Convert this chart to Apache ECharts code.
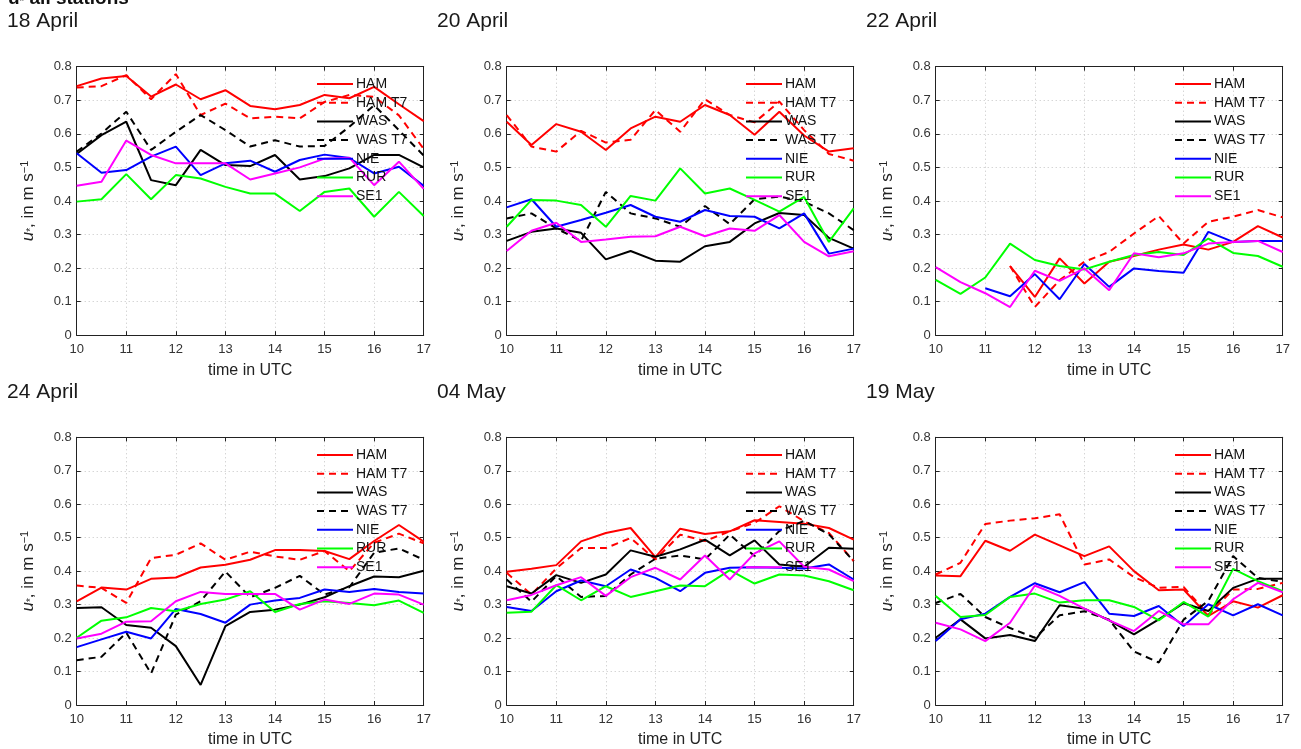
<!DOCTYPE html>
<html lang="en">
<head>
<meta charset="UTF-8">
<title>u* all stations</title>
<script src="https://cdn.jsdelivr.net/npm/echarts@6/dist/echarts.min.js"></script>
<style>
  body { margin: 0; background: #fff; }
  #chart { width: 1301px; height: 749px; }
</style>
</head>
<body>
<div id="chart"></div>
<script>
// time axis (UTC hours)
const TIMES = [10, 10.5, 11, 11.5, 12, 12.5, 13, 13.5, 14, 14.5, 15, 15.5, 16, 16.5, 17];
const STATIONS = ['HAM', 'HAM T7', 'WAS', 'WAS T7', 'NIE', 'RUR', 'SE1'];
const DAYS = ['18 April', '20 April', '22 April', '24 April', '04 May', '19 May'];

// 18 April
const apr18_HAM   = [0.742, 0.765, 0.772, 0.711, 0.747, 0.703, 0.730, 0.683, 0.673, 0.686, 0.716, 0.706, 0.740, 0.688, 0.638];
const apr18_HAMT7 = [0.738, 0.742, 0.775, 0.703, 0.778, 0.656, 0.690, 0.646, 0.651, 0.646, 0.695, 0.716, 0.710, 0.655, 0.555];
const apr18_WAS   = [0.540, 0.596, 0.636, 0.462, 0.447, 0.552, 0.507, 0.504, 0.537, 0.464, 0.474, 0.497, 0.537, 0.537, 0.500];
const apr18_WAST7 = [0.547, 0.601, 0.666, 0.552, 0.606, 0.656, 0.611, 0.562, 0.581, 0.562, 0.564, 0.621, 0.685, 0.611, 0.535];
const apr18_NIE   = [0.542, 0.484, 0.492, 0.532, 0.562, 0.477, 0.512, 0.520, 0.487, 0.522, 0.538, 0.528, 0.482, 0.502, 0.445];
const apr18_RUR   = [0.398, 0.405, 0.480, 0.405, 0.477, 0.467, 0.442, 0.422, 0.422, 0.370, 0.427, 0.437, 0.353, 0.427, 0.355];
const apr18_SE1   = [0.445, 0.457, 0.580, 0.537, 0.512, 0.512, 0.512, 0.464, 0.482, 0.500, 0.526, 0.529, 0.447, 0.517, 0.436];

// 20 April
const apr20_HAM   = [0.636, 0.567, 0.629, 0.606, 0.552, 0.616, 0.651, 0.636, 0.686, 0.656, 0.597, 0.666, 0.595, 0.547, 0.557];
const apr20_HAMT7 = [0.656, 0.562, 0.547, 0.609, 0.574, 0.582, 0.671, 0.606, 0.703, 0.656, 0.634, 0.696, 0.611, 0.540, 0.520];
const apr20_WAS   = [0.281, 0.308, 0.318, 0.305, 0.226, 0.251, 0.222, 0.219, 0.265, 0.278, 0.333, 0.364, 0.358, 0.290, 0.258];
const apr20_WAST7 = [0.348, 0.363, 0.318, 0.281, 0.427, 0.363, 0.348, 0.323, 0.385, 0.331, 0.405, 0.413, 0.398, 0.363, 0.313];
const apr20_NIE   = [0.381, 0.405, 0.323, 0.343, 0.365, 0.388, 0.353, 0.338, 0.373, 0.355, 0.353, 0.318, 0.363, 0.243, 0.258];
const apr20_RUR   = [0.323, 0.403, 0.401, 0.388, 0.323, 0.415, 0.401, 0.497, 0.422, 0.437, 0.403, 0.368, 0.412, 0.278, 0.378];
const apr20_SE1   = [0.251, 0.311, 0.335, 0.278, 0.285, 0.293, 0.295, 0.323, 0.295, 0.318, 0.311, 0.358, 0.278, 0.235, 0.250];

// 22 April (WAS stations without data)
const apr22_HAM   = [null, null, null, 0.206, 0.114, 0.229, 0.154, 0.219, 0.236, 0.255, 0.270, 0.255, 0.278, 0.325, 0.291];
const apr22_HAMT7 = [null, null, null, 0.206, 0.084, 0.164, 0.219, 0.248, 0.303, 0.355, 0.273, 0.338, 0.353, 0.373, 0.351];
const apr22_WAS   = [null, null, null, null, null, null, null, null, null, null, null, null, null, null, null];
const apr22_WAST7 = [null, null, null, null, null, null, null, null, null, null, null, null, null, null, null];
const apr22_NIE   = [null, null, 0.140, 0.116, 0.182, 0.107, 0.212, 0.144, 0.199, 0.191, 0.186, 0.308, 0.278, 0.281, 0.281];
const apr22_RUR   = [0.165, 0.123, 0.172, 0.273, 0.224, 0.206, 0.196, 0.219, 0.239, 0.248, 0.239, 0.288, 0.245, 0.236, 0.204];
const apr22_SE1   = [0.203, 0.158, 0.125, 0.084, 0.192, 0.162, 0.199, 0.134, 0.244, 0.232, 0.244, 0.273, 0.278, 0.281, 0.248];

// 24 April
const apr24_HAM   = [0.310, 0.351, 0.345, 0.377, 0.381, 0.411, 0.419, 0.434, 0.463, 0.463, 0.460, 0.436, 0.490, 0.538, 0.488];
const apr24_HAMT7 = [0.357, 0.350, 0.305, 0.439, 0.449, 0.483, 0.434, 0.458, 0.444, 0.434, 0.460, 0.400, 0.485, 0.512, 0.483];
const apr24_WAS   = [0.290, 0.292, 0.239, 0.231, 0.176, 0.060, 0.236, 0.278, 0.285, 0.300, 0.322, 0.355, 0.384, 0.382, 0.401];
const apr24_WAST7 = [0.134, 0.144, 0.216, 0.094, 0.270, 0.310, 0.399, 0.322, 0.350, 0.386, 0.330, 0.352, 0.455, 0.468, 0.434];
const apr24_NIE   = [0.173, 0.196, 0.219, 0.199, 0.287, 0.272, 0.246, 0.300, 0.312, 0.320, 0.345, 0.338, 0.347, 0.338, 0.333];
const apr24_RUR   = [0.201, 0.252, 0.262, 0.290, 0.280, 0.302, 0.315, 0.340, 0.278, 0.302, 0.310, 0.305, 0.298, 0.312, 0.275];
const apr24_SE1   = [0.199, 0.213, 0.249, 0.250, 0.310, 0.338, 0.332, 0.332, 0.332, 0.285, 0.315, 0.302, 0.333, 0.330, 0.300];

// 04 May
const may04_HAM   = [0.398, 0.407, 0.418, 0.489, 0.514, 0.529, 0.442, 0.527, 0.511, 0.519, 0.552, 0.547, 0.542, 0.529, 0.494];
const may04_HAMT7 = [0.395, 0.330, 0.408, 0.469, 0.469, 0.499, 0.435, 0.509, 0.490, 0.519, 0.544, 0.594, 0.549, 0.514, 0.430];
const may04_WAS   = [0.355, 0.333, 0.388, 0.365, 0.390, 0.462, 0.443, 0.465, 0.494, 0.447, 0.492, 0.420, 0.413, 0.470, 0.467];
const may04_WAST7 = [0.375, 0.309, 0.385, 0.323, 0.326, 0.390, 0.437, 0.447, 0.435, 0.509, 0.445, 0.520, 0.550, 0.510, 0.430];
const may04_NIE   = [0.293, 0.281, 0.340, 0.372, 0.355, 0.405, 0.380, 0.340, 0.395, 0.410, 0.412, 0.410, 0.408, 0.420, 0.375];
const may04_RUR   = [0.276, 0.279, 0.358, 0.313, 0.355, 0.323, 0.340, 0.357, 0.355, 0.403, 0.363, 0.390, 0.387, 0.370, 0.343];
const may04_SE1   = [0.313, 0.329, 0.358, 0.382, 0.326, 0.382, 0.410, 0.375, 0.447, 0.375, 0.453, 0.489, 0.413, 0.405, 0.370];

// 19 May
const may19_HAM   = [0.387, 0.385, 0.491, 0.461, 0.509, 0.477, 0.445, 0.474, 0.400, 0.343, 0.345, 0.266, 0.310, 0.291, 0.328];
const may19_HAMT7 = [0.390, 0.425, 0.541, 0.551, 0.558, 0.570, 0.420, 0.435, 0.382, 0.350, 0.353, 0.270, 0.345, 0.347, 0.365];
const may19_WAS   = [0.201, 0.256, 0.199, 0.209, 0.191, 0.298, 0.288, 0.253, 0.211, 0.256, 0.304, 0.281, 0.350, 0.377, 0.377];
const may19_WAST7 = [0.305, 0.332, 0.263, 0.230, 0.201, 0.268, 0.280, 0.255, 0.160, 0.127, 0.255, 0.311, 0.445, 0.380, 0.368];
const may19_NIE   = [0.191, 0.256, 0.273, 0.323, 0.364, 0.337, 0.367, 0.273, 0.266, 0.296, 0.236, 0.301, 0.268, 0.301, 0.268];
const may19_RUR   = [0.326, 0.263, 0.269, 0.323, 0.333, 0.306, 0.313, 0.313, 0.293, 0.253, 0.308, 0.264, 0.407, 0.370, 0.340];
const may19_SE1   = [0.246, 0.226, 0.191, 0.246, 0.357, 0.326, 0.288, 0.253, 0.221, 0.281, 0.241, 0.241, 0.316, 0.365, 0.337];

const panelData = [
  [apr18_HAM, apr18_HAMT7, apr18_WAS, apr18_WAST7, apr18_NIE, apr18_RUR, apr18_SE1],
  [apr20_HAM, apr20_HAMT7, apr20_WAS, apr20_WAST7, apr20_NIE, apr20_RUR, apr20_SE1],
  [apr22_HAM, apr22_HAMT7, apr22_WAS, apr22_WAST7, apr22_NIE, apr22_RUR, apr22_SE1],
  [apr24_HAM, apr24_HAMT7, apr24_WAS, apr24_WAST7, apr24_NIE, apr24_RUR, apr24_SE1],
  [may04_HAM, may04_HAMT7, may04_WAS, may04_WAST7, may04_NIE, may04_RUR, may04_SE1],
  [may19_HAM, may19_HAMT7, may19_WAS, may19_WAST7, may19_NIE, may19_RUR, may19_SE1]
];

// styling per station
const colors = ['#ff0000', '#ff0000', '#000000', '#000000', '#0000ff', '#00ff00', '#ff00ff'];
const dashed = [false, true, false, true, false, false, false];

// layout
const colLeft = [76.7, 506.7, 935.7];
const rowTop = [66.7, 437.3];
const gridW = 347, gridH = 268.5;
const FONT = 'Liberation Sans, Arial, sans-serif';

let myChart = echarts.init(document.getElementById('chart'), null, { renderer: 'canvas' });

let grids = [], xAxes = [], yAxes = [], series = [], legends = [];
let titles = [{
  text: '{b|u}{s|*}{b| all stations}',
  left: 8, top: -11, padding: 0,
  textStyle: {
    rich: {
      b: { fontFamily: FONT, fontSize: 19, fontWeight: 'bold', color: '#111' },
      s: { fontFamily: FONT, fontSize: 12, fontWeight: 'bold', color: '#111', verticalAlign: 'bottom' }
    }
  }
}];

const gridLine = { show: true, lineStyle: { color: '#c4c4c4', type: [1, 3], width: 1 } };
const frame = { show: true, onZero: false, lineStyle: { color: '#222', width: 1 } };
const ticks = { show: true, inside: true, length: 4, lineStyle: { color: '#222' } };

for (let p = 0; p < 6; p++) {
  let r = Math.floor(p / 3), c = p % 3;
  grids.push({ left: colLeft[c], top: rowTop[r], width: gridW, height: gridH, containLabel: false });

  titles.push({
    text: DAYS[p],
    left: [7, 437, 866][c], top: [11, 382][r], padding: 0,
    textStyle: { fontFamily: FONT, fontSize: 21, fontWeight: 'normal', color: '#1a1a1a' }
  });

  // bottom x axis (labels) and top x axis (frame)
  xAxes.push({
    type: 'value', gridIndex: p, min: 10, max: 17, interval: 1, position: 'bottom',
    name: 'time in UTC', nameLocation: 'middle', nameGap: 27,
    nameTextStyle: { fontFamily: FONT, fontSize: 16, color: '#222' },
    axisLine: frame, axisTick: ticks,
    axisLabel: { fontFamily: FONT, fontSize: 13, color: '#333', margin: 8 },
    splitLine: gridLine
  });
  xAxes.push({
    type: 'value', gridIndex: p, min: 10, max: 17, interval: 1, position: 'top',
    axisLine: frame, axisTick: ticks,
    axisLabel: { show: false }, splitLine: { show: false }
  });

  // left y axis (labels) and right y axis (frame)
  yAxes.push({
    type: 'value', gridIndex: p, min: 0, max: 0.8, interval: 0.1, position: 'left',
    name: '{i|u}{s|*}{n|, in m s}{p|−1}', nameLocation: 'middle', nameGap: 40, nameRotate: 90,
    nameTextStyle: {
      rich: {
        i: { fontFamily: FONT, fontSize: 17, fontStyle: 'italic', color: '#222' },
        s: { fontFamily: FONT, fontSize: 10, color: '#222', verticalAlign: 'bottom' },
        n: { fontFamily: FONT, fontSize: 17, color: '#222' },
        p: { fontFamily: FONT, fontSize: 11, color: '#222', verticalAlign: 'top' }
      }
    },
    axisLine: frame, axisTick: ticks,
    axisLabel: {
      fontFamily: FONT, fontSize: 13, color: '#333', margin: 5,
      formatter: v => (v === 0 ? '0' : v.toFixed(1))
    },
    splitLine: gridLine
  });
  yAxes.push({
    type: 'value', gridIndex: p, min: 0, max: 0.8, interval: 0.1, position: 'right',
    axisLine: frame, axisTick: ticks,
    axisLabel: { show: false }, splitLine: { show: false }
  });

  for (let s = 0; s < STATIONS.length; s++) {
    series.push({
      name: STATIONS[s],
      type: 'line',
      xAxisIndex: p * 2,
      yAxisIndex: p * 2,
      data: TIMES.map((t, i) => [t, panelData[p][s][i]]),
      symbol: 'none',
      connectNulls: false,
      color: colors[s],
      lineStyle: { color: colors[s], width: 2, type: dashed[s] ? [7, 5] : 'solid' },
      animation: false
    });
  }

  legends.push({
    data: STATIONS,
    orient: 'vertical',
    left: [316, 745, 1174][c],
    top: [77, 448][r],
    padding: 0,
    itemWidth: 36,
    itemHeight: 12,
    itemGap: 4.7,
    selectedMode: false,
    itemStyle: { opacity: 0 },
    textStyle: { fontFamily: FONT, fontSize: 14, color: '#111', lineHeight: 14, padding: [0, 0, 0, -2] }
  });
}

let option = {
  backgroundColor: '#fff',
  animation: false,
  title: titles,
  legend: legends,
  grid: grids,
  xAxis: xAxes,
  yAxis: yAxes,
  series: series
};

myChart.setOption(option);
</script>
</body>
</html>
